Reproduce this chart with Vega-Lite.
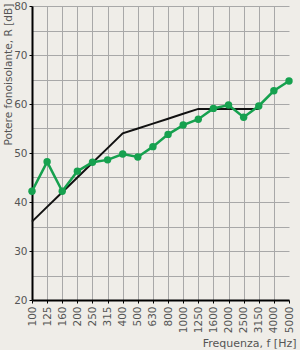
{
  "$schema": "https://vega.github.io/schema/vega-lite/v6.json",
  "autosize": {"type": "none"},
  "width": 257,
  "height": 294,
  "padding": {"left": 32, "top": 6, "right": 11, "bottom": 50},
  "background": "#efede8",
  "config": {
    "view": {"stroke": null},
    "font": "DejaVu Sans",
    "axis": {
      "labelFont": "DejaVu Sans",
      "titleFont": "DejaVu Sans",
      "labelColor": "#555555",
      "titleColor": "#555555",
      "titleFontWeight": "normal",
      "labelFontSize": 10.5,
      "titleFontSize": 11,
      "domainColor": "#000000",
      "domainWidth": 2,
      "tickColor": "#000000",
      "tickSize": 3,
      "gridColor": "#a8a8a8",
      "gridWidth": 1
    }
  },
  "datasets": {
    "meas": [
      {"f": "100", "R": 42.2},
      {"f": "125", "R": 48.2},
      {"f": "160", "R": 42.2},
      {"f": "200", "R": 46.3},
      {"f": "250", "R": 48.1},
      {"f": "315", "R": 48.6},
      {"f": "400", "R": 49.8},
      {"f": "500", "R": 49.2},
      {"f": "630", "R": 51.3},
      {"f": "800", "R": 53.8},
      {"f": "1000", "R": 55.7},
      {"f": "1250", "R": 56.9},
      {"f": "1600", "R": 59.1},
      {"f": "2000", "R": 59.8},
      {"f": "2500", "R": 57.3},
      {"f": "3150", "R": 59.6},
      {"f": "4000", "R": 62.7},
      {"f": "5000", "R": 64.7}
    ],
    "ref": [
      {"f": "100", "R": 36},
      {"f": "125", "R": 39},
      {"f": "160", "R": 42},
      {"f": "200", "R": 45},
      {"f": "250", "R": 48},
      {"f": "315", "R": 51},
      {"f": "400", "R": 54},
      {"f": "500", "R": 55},
      {"f": "630", "R": 56},
      {"f": "800", "R": 57},
      {"f": "1000", "R": 58},
      {"f": "1250", "R": 59},
      {"f": "1600", "R": 59},
      {"f": "2000", "R": 59},
      {"f": "2500", "R": 59},
      {"f": "3150", "R": 59}
    ]
  },
  "encoding": {
    "x": {
      "field": "f",
      "type": "ordinal",
      "sort": null,
      "scale": {"type": "point", "padding": 0, "domain": ["100","125","160","200","250","315","400","500","630","800","1000","1250","1600","2000","2500","3150","4000","5000"]},
      "axis": {
        "title": "Frequenza, f [Hz]",
        "labelAngle": -90,
        "labelAlign": "right",
        "labelBaseline": "middle",
        "labelPadding": 3,
        "titleAnchor": "end",
        "titleAlign": "right",
        "titleX": 264,
        "titlePadding": 5,
        "grid": true,
        "gridColor": {"condition": {"test": "datum.value === '5000' || datum.value === '100'", "value": "transparent"}, "value": "#a8a8a8"}
      }
    },
    "y": {
      "field": "R",
      "type": "quantitative",
      "scale": {"domain": [20, 80], "nice": false, "zero": false},
      "axis": {
        "title": "Potere fonoisolante, R [dB]",
        "values": [20, 25, 30, 35, 40, 45, 50, 55, 60, 65, 70, 75, 80],
        "labelExpr": "datum.value % 10 === 0 ? datum.label : ''",
        "tickSize": {"condition": {"test": "datum.value % 10 === 0", "value": 3}, "value": 0},
        "gridColor": {"condition": {"test": "datum.value === 20", "value": "transparent"}, "value": "#a8a8a8"},
        "labelPadding": 2,
        "titleFontSize": 10.6,
        "titleAnchor": "end",
        "titleAlign": "right",
        "titleBaseline": "middle",
        "titleAngle": -90,
        "titleX": -23.5,
        "titleY": -3,
        "grid": true
      }
    }
  },
  "layer": [
    {
      "data": {"name": "ref"},
      "mark": {"type": "line", "color": "#111111", "strokeWidth": 2}
    },
    {
      "data": {"name": "meas"},
      "mark": {"type": "line", "color": "#16a14f", "strokeWidth": 2.5, "point": {"filled": true, "size": 55, "color": "#16a14f", "opacity": 1}}
    }
  ]
}
